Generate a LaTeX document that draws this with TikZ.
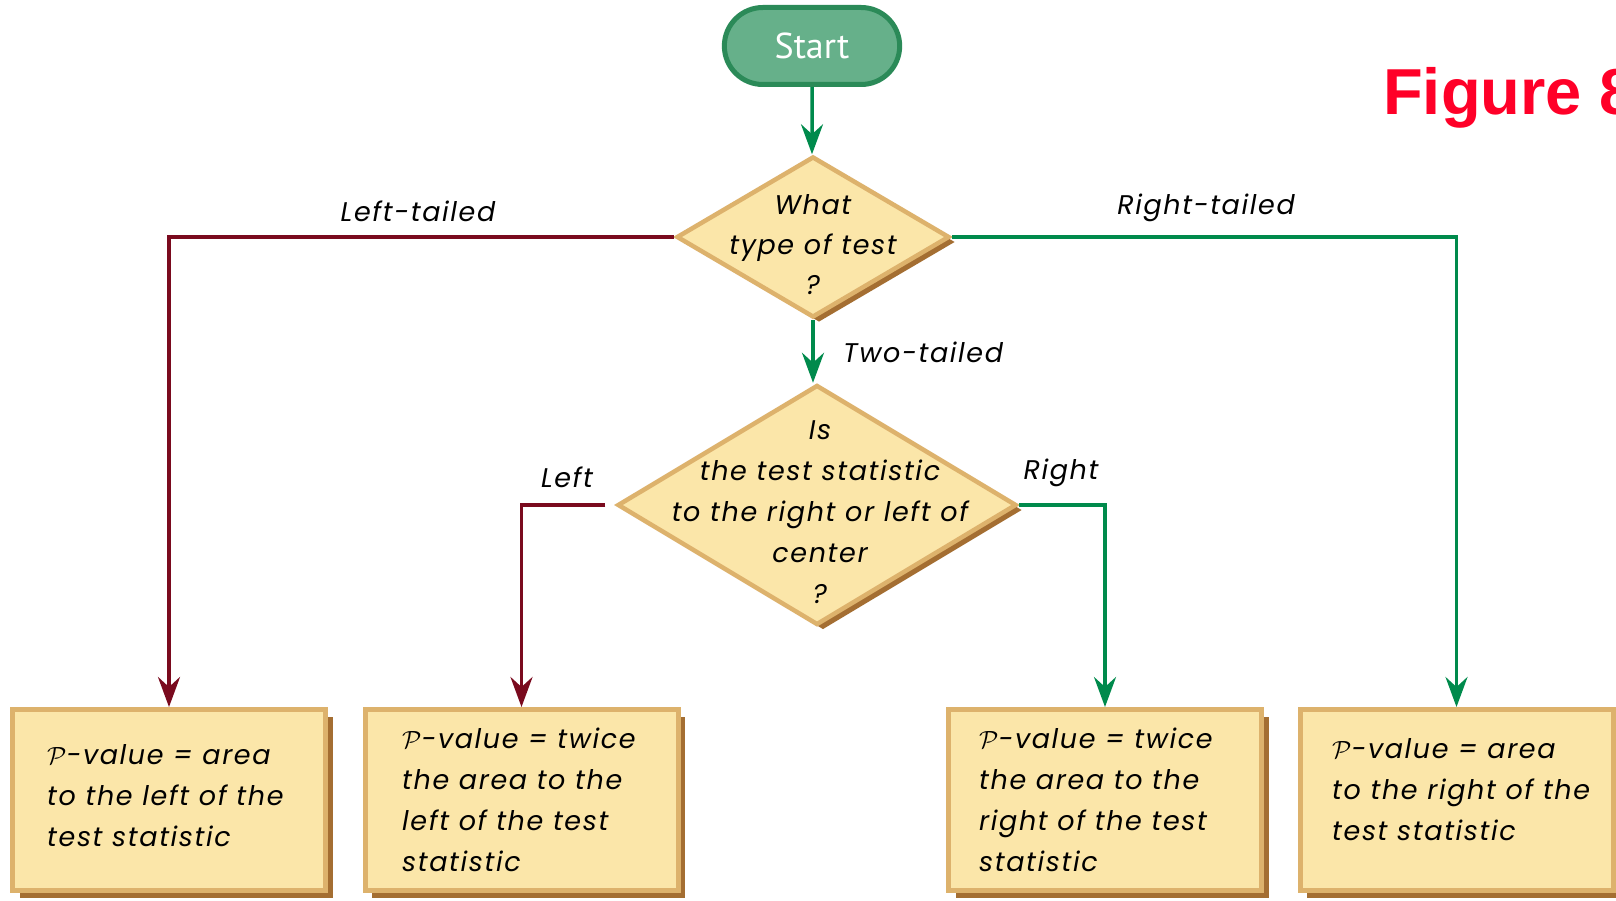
\documentclass[tikz,border=0pt]{standalone}
\usepackage{fontspec}
\setmainfont{Poppins}
\newfontfamily\startfont{PT Sans}
\newfontfamily\figfont{Liberation Sans}
\usetikzlibrary{shapes.geometric,shapes.misc,arrows.meta,shadows}
\definecolor{lgreen}{HTML}{008A4C}
\definecolor{dred}{HTML}{7A0A1E}
\definecolor{startfill}{HTML}{66B08A}
\definecolor{startdraw}{HTML}{2B8A58}
\definecolor{cream}{HTML}{FBE6A9}
\definecolor{tanc}{HTML}{DDB26C}
\definecolor{brownsh}{HTML}{A46E32}
\definecolor{figred}{HTML}{FF0028}
\tikzset{
  hand/.style={font=\fontsize{27}{41}\selectfont\itshape\addfontfeatures{LetterSpace=6}, inner sep=0pt, text=black},
  decision/.style={diamond, fill=cream, draw=tanc, line width=4.5pt, inner sep=0pt,
    drop shadow={shadow xshift=6pt, shadow yshift=-5pt, fill=brownsh, opacity=1}},
  outbox/.style={rectangle, fill=cream, draw=tanc, line width=5pt, inner sep=0pt,
    minimum width=313pt, minimum height=181pt,
    drop shadow={shadow xshift=7pt, shadow yshift=-7pt, fill=brownsh, opacity=1}},
  gline/.style={draw=lgreen, line width=3.5pt, -{Stealth[length=30pt,width=22pt,inset=10pt]}},
  rline/.style={draw=dred, line width=3.5pt, -{Stealth[length=30pt,width=22pt,inset=10pt]}},
}
\begin{document}
\begin{tikzpicture}[x=1pt,y=-1pt]
\useasboundingbox (0,0) rectangle (1616,901);
\clip (0,0) rectangle (1616,901);
\fill[white] (0,0) rectangle (1616,901);
% start
\node[rounded rectangle, fill=startfill, draw=startdraw, line width=5pt,
  minimum width=182pt, minimum height=77pt, text=white,
  font=\startfont\fontsize{36}{40}\selectfont] (start) at (812,46) {Start};
% decisions
\node[decision, minimum width=273pt, minimum height=161pt] (d1) at (813,237) {};
\node[hand, align=center, font=\fontsize{27}{40}\selectfont\itshape\addfontfeatures{LetterSpace=6}] (t1) at (813,245) {What\\type of test\\?};
\node[decision, minimum width=399pt, minimum height=240pt] (d2) at (817,505) {};
\node[hand, align=center] (t2) at (820,512) {Is\\the test statistic\\to the right or left of\\center\\?};
% boxes
\node[outbox] (b1) at (169,800) {};
\node[outbox] (b2) at (521.5,800) {};
\node[outbox] (b3) at (1105,800) {};
\node[outbox] (b4) at (1456.5,800) {};
\node[hand, align=left, anchor=west] (bt1) at (47,796) {$\mathcal{P}$-value = area\\to the left of the\\test statistic};
\node[hand, align=left, anchor=west] (bt2) at (402,800) {$\mathcal{P}$-value = twice\\the area to the\\left of the test\\statistic};
\node[hand, align=left, anchor=west] (bt3) at (979,800) {$\mathcal{P}$-value = twice\\the area to the\\right of the test\\statistic};
\node[hand, align=left, anchor=west] (bt4) at (1332,790) {$\mathcal{P}$-value = area\\to the right of the\\test statistic};
% connectors
\draw[gline] (start) -- (start |- d1.north);
\draw[rline] (d1.west) -| (b1.north);
\draw[gline] (d1.east) -| (b4.north);
\draw[gline] (d1.south) -- (d1.south |- d2.north);
\draw[rline, shorten <=10pt] (d2.west) -| (b2.north);
\draw[gline] (d2.east) -| (b3.north);
% labels
\node[hand] (lt) at (418,211) {Left-tailed};
\node[hand] (rt) at (1206,208) {Right-tailed};
\node[hand, anchor=west] (tt) at (843,352) {Two-tailed};
\node[hand] (ll) at (567,477) {Left};
\node[hand] (rr) at (1061,473) {Right};
% figure title
\node[anchor=base west, inner sep=0pt, text=figred, font=\figfont\bfseries\fontsize{65}{70}\selectfont] (fig) at (1383,115) {Figure 8};
\end{tikzpicture}
\end{document}
